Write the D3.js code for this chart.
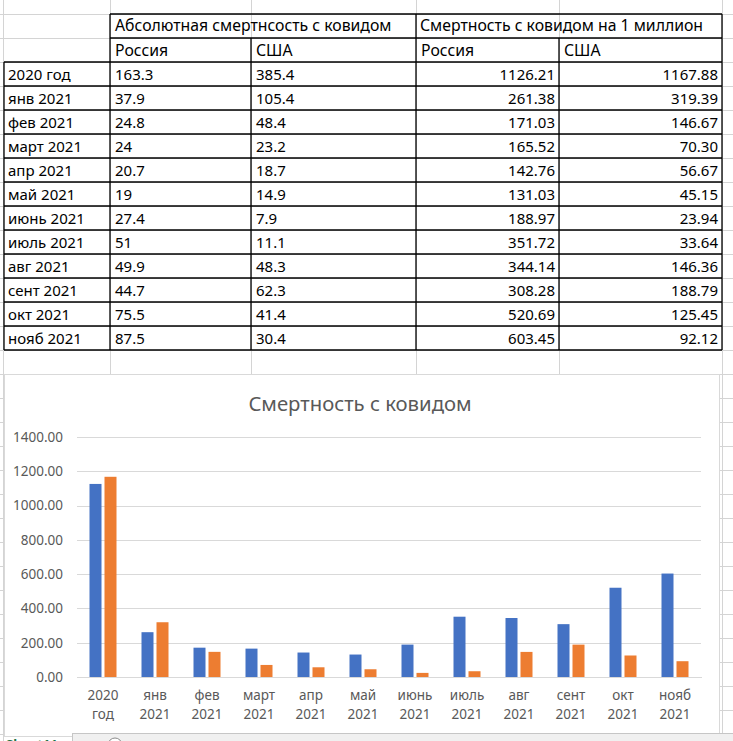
<!DOCTYPE html>
<html>
<head>
<meta charset="utf-8">
<script src="https://cdn.jsdelivr.net/npm/d3@7"></script>
<style>
    body { margin: 0; background: #fff; }
    svg { display: block; font-family: 'Noto Sans', sans-serif; }
</style>
</head>
<body>
<svg id="sheet" width="733" height="741"></svg>
<script>
// data read from the sheet
var periods = ['2020 год', 'янв 2021', 'фев 2021', 'март 2021', 'апр 2021', 'май 2021',
    'июнь 2021', 'июль 2021', 'авг 2021', 'сент 2021', 'окт 2021', 'нояб 2021'];
var absRussia = [163.3, 37.9, 24.8, 24, 20.7, 19, 27.4, 51, 49.9, 44.7, 75.5, 87.5];
var absUSA = [385.4, 105.4, 48.4, 23.2, 18.7, 14.9, 7.9, 11.1, 48.3, 62.3, 41.4, 30.4];
var perMRussia = [1126.21, 261.38, 171.03, 165.52, 142.76, 131.03, 188.97, 351.72, 344.14, 308.28, 520.69, 603.45];
var perMUSA = [1167.88, 319.39, 146.67, 70.30, 56.67, 45.15, 23.94, 33.64, 146.36, 188.79, 125.45, 92.12];
var yTicks = [0, 200, 400, 600, 800, 1000, 1200, 1400];
var seriesNames = ['Россия', 'США'];

var svg = d3.select('#sheet');

// ---- spreadsheet grid ----
var colX = [3, 110, 251, 416, 559, 722];
var rowH = 24, gridTop = 14;
var grid = svg.append('g').attr('stroke', '#d4d4d4').attr('shape-rendering', 'crispEdges');
d3.range(-1, 31).forEach(function(i) {
    var y = gridTop + i * rowH;
    grid.append('line').attr('x1', 0).attr('x2', 733).attr('y1', y + 0.5).attr('y2', y + 0.5);
});
colX.forEach(function(x) {
    grid.append('line').attr('x1', x + 0.5).attr('x2', x + 0.5).attr('y1', 0).attr('y2', 741);
});

// ---- table ----
var tbl = svg.append('g');
var rows = periods.map(function(p, i) {
    return [p, String(absRussia[i]), String(absUSA[i]), perMRussia[i].toFixed(2), perMUSA[i].toFixed(2)];
});
var tableTop = gridTop + 2 * rowH;
var tableBottom = tableTop + rows.length * rowH;

var borders = tbl.append('g').attr('stroke', '#000').attr('stroke-width', 1.3);
var hline = function(y, x1, x2) {
    borders.append('line').attr('x1', x1).attr('x2', x2).attr('y1', y).attr('y2', y);
};
var vline = function(x, y1, y2) {
    borders.append('line').attr('x1', x).attr('x2', x).attr('y1', y1).attr('y2', y2);
};
hline(gridTop, colX[1], colX[5]);
hline(gridTop + rowH, colX[1], colX[5]);
d3.range(rows.length + 1).forEach(function(i) {
    hline(tableTop + i * rowH, colX[0] + 1, colX[5]);
});
vline(colX[0] + 1, tableTop, tableBottom);
vline(colX[1], gridTop, tableBottom);
vline(colX[2], gridTop + rowH, tableBottom);
vline(colX[3], gridTop, tableBottom);
vline(colX[4], gridTop + rowH, tableBottom);
vline(colX[5], gridTop, tableBottom);

var cellText = tbl.append('g').attr('font-size', 15).attr('fill', '#000');
cellText.append('text').attr('x', colX[1] + 5).attr('y', gridTop + 17)
    .attr('font-size', 15.8).text('Абсолютная смертнсость с ковидом');
cellText.append('text').attr('x', colX[3] + 4).attr('y', gridTop + 17)
    .attr('font-size', 15.8).text('Смертность с ковидом на 1 миллион');
[1, 2, 3, 4].forEach(function(c, k) {
    cellText.append('text').attr('x', colX[c] + 5).attr('y', gridTop + rowH + 18)
        .attr('font-size', 15.8).text(seriesNames[k % 2]);
});
rows.forEach(function(r, i) {
    var y = tableTop + i * rowH + 18;
    r.forEach(function(v, c) {
        var t = cellText.append('text').attr('y', y).text(v);
        if (c >= 3) t.attr('x', colX[c + 1] - 4).attr('text-anchor', 'end');
        else t.attr('x', colX[c] + (c === 0 ? 5 : 5));
    });
});

// ---- chart ----
var box = { x: 4, y: 374, w: 715, h: 362 };
svg.append('rect')
    .attr('x', box.x + 0.5).attr('y', box.y + 0.5)
    .attr('width', box.w).attr('height', box.h)
    .attr('fill', '#fff').attr('stroke', '#d9d9d9');

svg.append('text')
    .attr('x', 360).attr('y', 411)
    .attr('text-anchor', 'middle')
    .attr('font-size', 20.3)
    .attr('fill', '#595959')
    .text('Смертность с ковидом');

var plot = { left: 77, right: 701, top: 437, bottom: 677 };
var y = d3.scaleLinear().domain([0, 1400]).range([plot.bottom, plot.top]);
var x = d3.scaleBand().domain(periods).range([plot.left, plot.right]);
var groupW = 27;
var xSub = d3.scaleBand().domain(seriesNames).range([0, groupW]).paddingInner(0.2);
var color = d3.scaleOrdinal().domain(seriesNames).range(['#4472c4', '#ed7d31']);

var yAxis = svg.append('g')
    .attr('transform', 'translate(' + plot.left + ',0)')
    .call(d3.axisLeft(y).tickValues(yTicks).tickFormat(d3.format('.2f'))
        .tickSize(-(plot.right - plot.left)).tickPadding(14));
yAxis.select('.domain').remove();
yAxis.selectAll('.tick line').attr('stroke', '#d9d9d9').attr('shape-rendering', 'crispEdges');
yAxis.selectAll('.tick text')
    .attr('fill', '#595959').attr('font-size', 13.5)
    .attr('font-family', "'Noto Sans', sans-serif");

var groups = svg.append('g').selectAll('g')
    .data(periods)
    .enter()
    .append('g')
    .attr('transform', function(d) {
        return 'translate(' + (x(d) + (x.bandwidth() - groupW) / 2) + ',0)';
    });

groups.selectAll('rect')
    .data(function(d, i) {
        return [{ s: seriesNames[0], v: perMRussia[i] }, { s: seriesNames[1], v: perMUSA[i] }];
    })
    .enter()
    .append('rect')
    .attr('x', function(d) { return xSub(d.s); })
    .attr('width', xSub.bandwidth())
    .attr('y', function(d) { return y(d.v); })
    .attr('height', function(d) { return y(0) - y(d.v); })
    .attr('fill', function(d) { return color(d.s); });

var xAxis = svg.append('g')
    .attr('transform', 'translate(0,' + plot.bottom + ')')
    .call(d3.axisBottom(x).tickSize(0).tickPadding(0));
xAxis.select('.domain').attr('stroke', '#d9d9d9').attr('shape-rendering', 'crispEdges');
xAxis.selectAll('.tick text').remove();
xAxis.selectAll('.tick')
    .append('text')
    .attr('fill', '#595959')
    .attr('font-size', 13.5)
    .attr('font-family', "'Noto Sans', sans-serif")
    .attr('text-anchor', 'middle')
    .selectAll('tspan')
    .data(function(d) { return d.split(' '); })
    .enter()
    .append('tspan')
    .attr('x', 0)
    .attr('y', function(d, i) { return 23 + i * 19; })
    .text(function(d) { return d; });

// ---- bottom strip: sheet tab and scroll bar ----
svg.append('rect').attr('x', 72.5).attr('y', 733.5).attr('width', 661).attr('height', 10)
    .attr('fill', '#f0f0f0').attr('stroke', '#c6c6c6');
svg.append('circle').attr('cx', 115).attr('cy', 745).attr('r', 7)
    .attr('fill', '#fff').attr('stroke', '#8a8a8a');
svg.append('text').attr('x', 6).attr('y', 749)
    .attr('font-size', 13).attr('font-weight', 'bold').attr('fill', '#217346')
    .text('Sheet11');
</script>
</body>
</html>
